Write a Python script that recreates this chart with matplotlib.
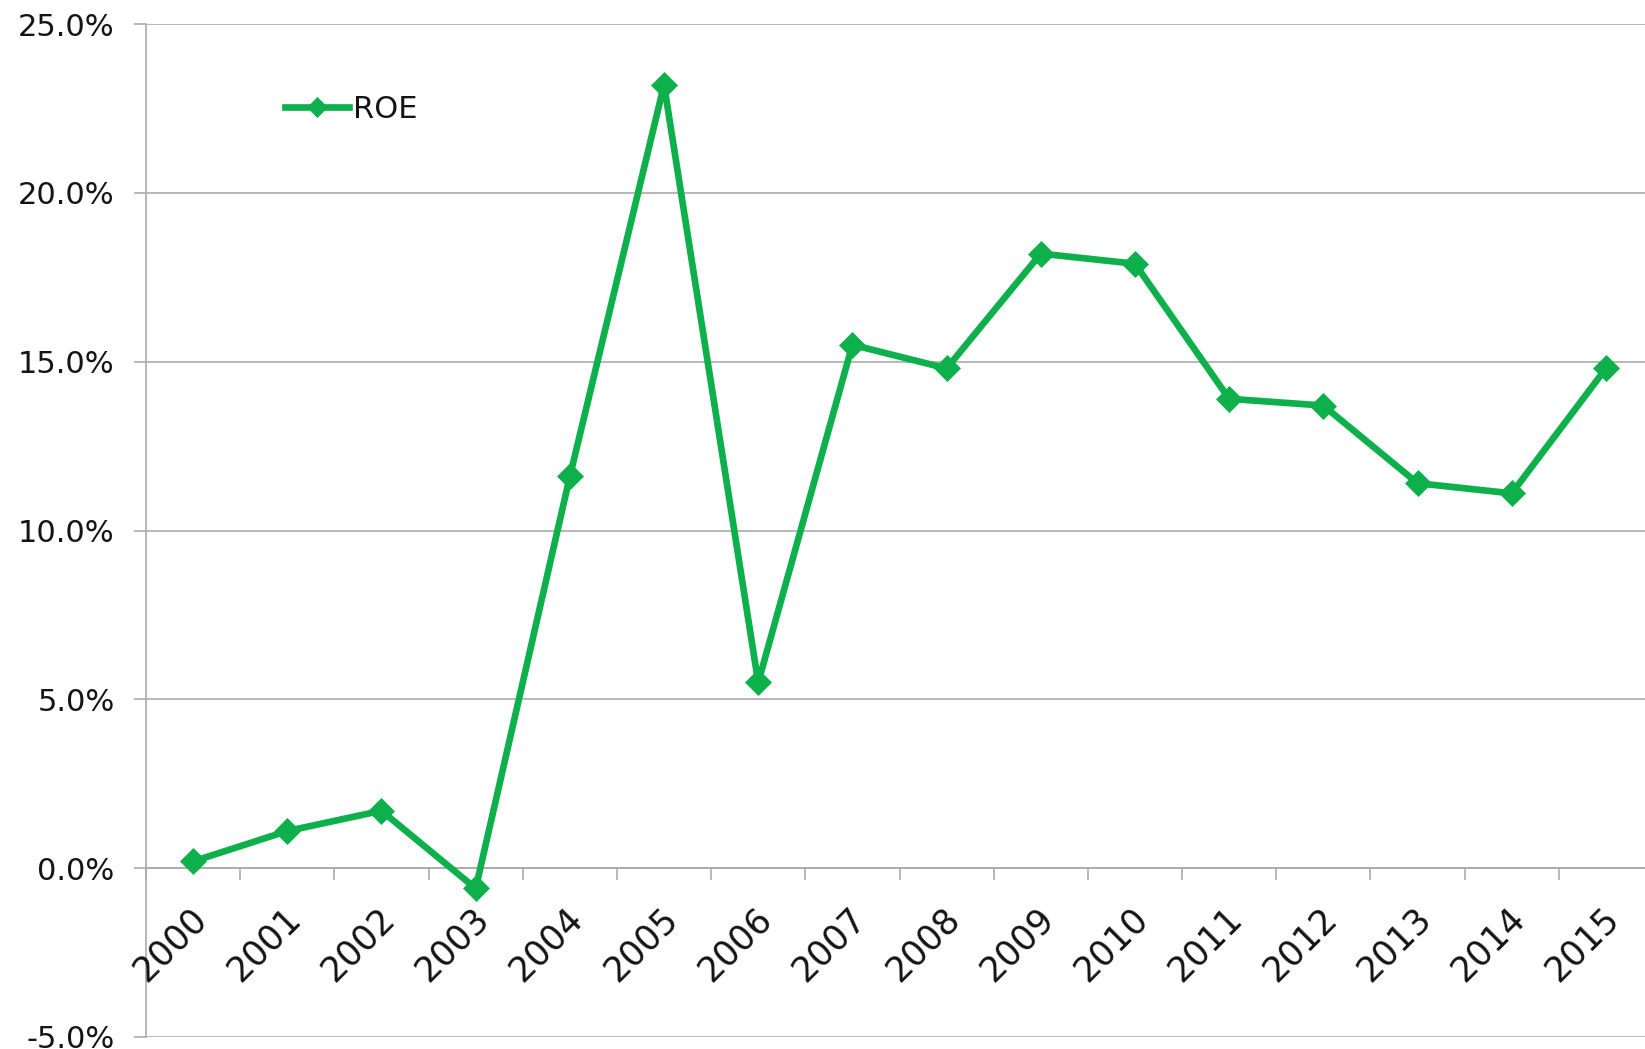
import matplotlib.pyplot as plt
from matplotlib.ticker import FixedLocator, FuncFormatter, NullFormatter
from matplotlib.transforms import ScaledTranslation

# ROE by year (percent)
years = ['2000', '2001', '2002', '2003', '2004', '2005', '2006', '2007',
         '2008', '2009', '2010', '2011', '2012', '2013', '2014', '2015']
roe = [0.2, 1.1, 1.7, -0.6, 11.6, 23.2, 5.5, 15.5,
       14.8, 18.2, 17.9, 13.9, 13.7, 11.4, 11.1, 14.8]
y_ticks = [-5, 0, 5, 10, 15, 20, 25]

green = '#0DB04B'
grid_gray = '#ABABAB'
text_col = '#141414'

fig = plt.figure(figsize=(16.45, 10.49), dpi=100)
ax = fig.add_axes([146 / 1645, 12 / 1049, 1507 / 1645, 1013 / 1049])

x = list(range(len(years)))
ax.plot(x, roe, color=green, linewidth=4.8, marker='D', markersize=13.5,
        markeredgewidth=0.5, label='ROE', clip_on=False, zorder=3)

ax.set_xlim(-0.5, len(years) - 0.5)
ax.set_ylim(-5, 25)

# y axis: gridlines + ticks outward
ax.set_yticks(y_ticks)
ax.yaxis.set_major_formatter(FuncFormatter(lambda v, p: f'{v:.1f}%'))
ax.grid(axis='y', color=grid_gray, linewidth=1.2)
ax.tick_params(axis='y', length=8.6, width=1.2, color=grid_gray,
               labelsize=22, labelcolor=text_col, pad=14)

# x axis sits on the 0% line, ticks at category boundaries
ax.spines['bottom'].set_position(('data', 0))
ax.spines['bottom'].set_color(grid_gray)
ax.spines['bottom'].set_linewidth(1.2)
ax.xaxis.set_major_locator(FixedLocator([i - 0.5 for i in range(len(years) + 1)]))
ax.xaxis.set_major_formatter(NullFormatter())
ax.tick_params(axis='x', which='major', direction='out', length=8.6, width=1.2,
               color=grid_gray)

# year labels, rotated, hanging below the 0% line
offset = ScaledTranslation(0.15, -0.52, fig.dpi_scale_trans)
for i, yr in enumerate(years):
    ax.text(i, 0, yr, transform=ax.transData + offset, rotation=45,
            ha='right', va='baseline', rotation_mode='anchor',
            fontsize=25, color=text_col)

ax.spines['left'].set_color(grid_gray)
ax.spines['left'].set_linewidth(1.2)
ax.spines['top'].set_visible(False)
ax.spines['right'].set_visible(False)

leg = ax.legend(loc='center left', bbox_to_anchor=(270 / 1645, 1 - 109 / 1049),
                bbox_transform=fig.transFigure, frameon=False, fontsize=22,
                handlelength=2.1, handletextpad=0.1, markerscale=0.75,
                borderpad=0)
for t in leg.get_texts():
    t.set_color(text_col)

plt.savefig('out.png', dpi=100)
plt.close()
